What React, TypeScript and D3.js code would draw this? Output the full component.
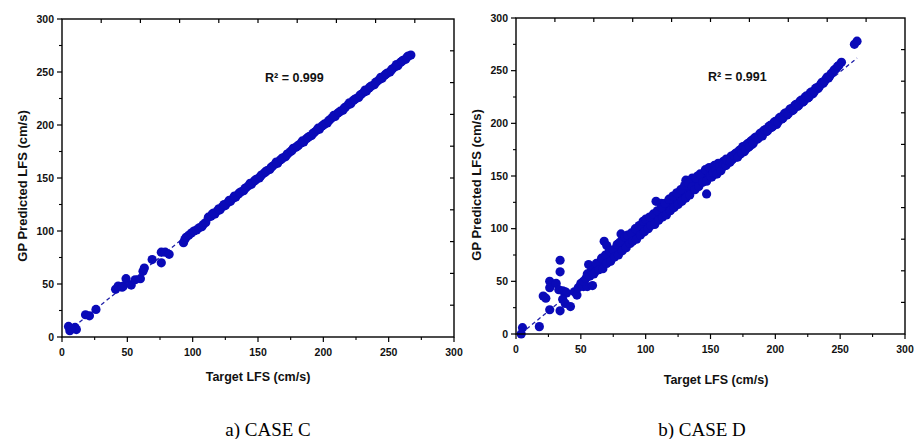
import React from "react";
import * as d3 from "d3";

// ---------- data ----------
const xMajorTicks = [0, 50, 100, 150, 200, 250, 300];
const yMajorTicks = [0, 50, 100, 150, 200, 250, 300];
const minorTicks = [25, 75, 125, 175, 225, 275];
const mirrorTicks = [30, 60, 90, 120, 150, 180, 210, 240, 270];

const xTitle = "Target LFS (cm/s)";
const yTitle = "GP Predicted LFS (cm/s)";

const captionC = "a) CASE C";
const captionD = "b) CASE D";
const r2C = "R² = 0.999";
const r2D = "R² = 0.991";

// CASE C: [target, predicted]
const caseCPoints: [number, number][] = [
  [5, 10], [6, 6], [10, 9], [11, 7], [7, 8],
  [18, 21], [21, 20], [26, 26],
  [41, 45], [43, 48], [46, 47], [47, 48], [49, 55], [53, 49], [56, 54], [60, 55],
  [62, 62], [63, 65], [69, 73], [76, 70], [76, 80], [79, 80], [82, 78],
  [93, 89], [94, 92], [95, 94], [97, 96], [99, 98], [101, 100], [103, 101], [105, 103],
  [107, 104], [108, 106], [110, 108],
  [112, 113], [114, 114], [115, 116], [117, 116], [119, 119], [121, 120], [123, 123],
  [125, 124], [127, 127], [129, 128], [131, 131], [133, 132], [135, 135], [137, 137],
  [139, 138], [141, 141], [143, 143], [145, 144], [147, 147], [149, 149], [151, 150],
  [153, 153], [155, 155], [157, 157], [159, 158], [161, 161], [163, 163], [165, 164],
  [167, 167], [169, 169], [171, 170], [173, 173], [175, 175], [177, 178], [179, 179],
  [181, 181], [183, 183], [185, 184], [187, 187], [189, 189], [191, 190], [193, 193],
  [195, 195], [197, 196], [199, 199], [201, 201], [203, 202], [205, 205], [207, 207],
  [209, 208], [211, 211], [213, 213], [215, 214], [217, 217], [219, 219], [221, 220],
  [223, 223], [225, 225], [227, 226], [229, 229], [231, 231], [233, 232], [235, 235],
  [237, 237], [239, 238], [241, 241], [243, 243], [245, 244], [247, 247], [249, 249],
  [251, 250], [253, 253], [255, 255], [257, 256], [259, 259], [261, 261], [263, 262],
  [265, 265], [267, 266],
  [116, 117], [120, 121], [124, 125], [128, 129], [132, 133], [136, 136], [140, 140],
  [144, 145], [148, 148], [152, 152], [156, 156], [160, 160], [164, 165], [168, 168],
  [172, 172], [176, 176], [180, 180], [184, 185], [188, 188], [192, 192], [196, 197],
  [200, 200], [204, 204], [208, 209], [212, 212], [216, 216], [220, 221], [224, 224],
  [228, 228], [232, 233], [236, 236], [240, 240], [244, 245], [248, 248], [252, 252],
  [256, 257], [260, 260], [264, 264],
];

// CASE D: [target, predicted]
const caseDPoints: [number, number][] = [
  [4, 0], [5, 6], [18, 7], [21, 36], [23, 34], [26, 23], [26, 50], [26, 44], [31, 48],
  [34, 70], [34, 59], [33, 42], [36, 41], [38, 40], [39, 39], [34, 22], [36, 33],
  [38, 29], [42, 26], [45, 40], [47, 37], [48, 44], [50, 48], [52, 45], [55, 45],
  [56, 66], [59, 46],
  [52, 50], [54, 53], [55, 57], [57, 55], [58, 60], [59, 58], [60, 62], [61, 59],
  [62, 64], [63, 61], [64, 66], [65, 63], [66, 68], [67, 65], [68, 71], [68, 88],
  [70, 84], [69, 70], [70, 73], [71, 69], [72, 75], [73, 72], [74, 78], [75, 74],
  [76, 80], [77, 76], [78, 82], [79, 78], [80, 84], [81, 80], [81, 95], [82, 87],
  [83, 82], [84, 89], [85, 85], [86, 91], [87, 87], [88, 93], [89, 89], [90, 95],
  [91, 91], [92, 97], [93, 93], [94, 99], [95, 96], [96, 101], [97, 98], [98, 104],
  [99, 100], [100, 105], [101, 102], [102, 107], [103, 103], [104, 109], [105, 105],
  [106, 111], [107, 107], [108, 126], [108, 113], [109, 109], [110, 116], [111, 111],
  [112, 124], [112, 118], [113, 114], [114, 120], [115, 116], [116, 122], [117, 118],
  [118, 125], [119, 120], [120, 127], [121, 122], [122, 129], [123, 124], [124, 131],
  [125, 127], [126, 133], [127, 129], [128, 135], [129, 131], [130, 138], [131, 133],
  [131, 146], [132, 140], [133, 135], [134, 142], [135, 137], [136, 148], [136, 144],
  [137, 139], [138, 146], [139, 141], [140, 150], [140, 147], [141, 143], [142, 149],
  [143, 145], [144, 151], [145, 146], [146, 153], [147, 133], [147, 148], [148, 155],
  [149, 150], [150, 157], [151, 152], [152, 158], [153, 154], [155, 160], [156, 156],
  [158, 162], [159, 158], [160, 164], [161, 160], [162, 166], [164, 164], [166, 169],
  [167, 166], [169, 171], [170, 168], [172, 174], [173, 171], [175, 178], [176, 173],
  [178, 180], [179, 177], [181, 183], [182, 180], [184, 186], [186, 185], [188, 190],
  [189, 188], [191, 193], [193, 192], [195, 197], [197, 196], [199, 201], [201, 199],
  [203, 205], [205, 204], [207, 209], [209, 208], [211, 213], [213, 212], [215, 217],
  [217, 216], [219, 221], [221, 220], [223, 225], [225, 224], [227, 229], [229, 228],
  [231, 233], [233, 233], [235, 237], [237, 238], [239, 242], [241, 243], [243, 247],
  [245, 250], [247, 252], [251, 258], [261, 275], [263, 278],
  [60, 57], [62, 67], [64, 61], [66, 72], [67, 62], [69, 75], [70, 67], [72, 79],
  [73, 69], [75, 80], [76, 73], [78, 85], [79, 75], [80, 87], [82, 79], [84, 92],
  [85, 82], [86, 94], [88, 86], [89, 96], [90, 88], [92, 100], [93, 90], [95, 103],
  [96, 94], [98, 107], [99, 97], [100, 109], [102, 100], [103, 111], [104, 103],
  [106, 114], [107, 104], [109, 117], [110, 108], [112, 120], [113, 111], [115, 124],
  [116, 113], [118, 128], [119, 117], [121, 131], [122, 120], [124, 134], [125, 123],
  [127, 137], [128, 126], [130, 141], [131, 129], [133, 143], [134, 132], [136, 140],
  [138, 137], [139, 148], [141, 140], [142, 152], [144, 144], [146, 156], [147, 145],
  [149, 158], [151, 149], [153, 160], [154, 152], [156, 162],
  [150, 150], [152, 153], [154, 156], [155, 152], [157, 159], [158, 155], [160, 161],
  [162, 160], [163, 165], [165, 163], [166, 165], [168, 170], [170, 172], [171, 168],
  [173, 175], [174, 172], [176, 178], [177, 175], [179, 181], [180, 178], [182, 184],
  [183, 181], [185, 187], [187, 186], [189, 191], [190, 188], [192, 194], [194, 193],
  [196, 198], [198, 197], [200, 202], [202, 201], [204, 206], [206, 205], [208, 210],
  [210, 209], [212, 214], [214, 213], [216, 218], [218, 217], [220, 222], [222, 221],
  [224, 226], [226, 225], [228, 230], [230, 230], [232, 234], [234, 235], [236, 239],
  [238, 240], [240, 244], [242, 245], [244, 248], [246, 251], [248, 254], [249, 255],
];

const caseCFit: [number, number][] = [[5, 5.5], [267, 267]];
const caseDFit: [number, number][] = [[4, 0.5], [263, 262]];

// ---------- styling ----------
const W = 919;
const H = 439;
const DOT = "#0a0ab8";
const FIT = "#2020a8";
const SANS = "'Liberation Sans', Arial, Helvetica, sans-serif";
const SERIF = "'Liberation Serif', 'Times New Roman', serif";

type PanelProps = {
  points: [number, number][];
  fit: [number, number][];
  left: number;
  right: number;
  top: number;
  bottom: number;
  r2: string;
  r2x: number;
  r2y: number;
  xTitleX: number;
  xTitleY: number;
  yTitleX: number;
  yTitleY: number;
  caption: string;
  captionX: number;
};

function Panel(p: PanelProps) {
  const x = d3.scaleLinear().domain([0, 300]).range([p.left, p.right]);
  const y = d3.scaleLinear().domain([0, 300]).range([p.bottom, p.top]);
  const line = d3
    .line<[number, number]>()
    .x((d) => x(d[0]))
    .y((d) => y(d[1]));
  const major = 5;
  const minor = 3;
  const inner = 4;
  return (
    <g>
      <path d={line(p.fit) || ""} fill="none" stroke={FIT} strokeWidth={1.3} strokeDasharray="4,3" />
      {p.points.map((d, i) => (
        <circle key={i} cx={x(d[0])} cy={y(d[1])} r={4.6} fill={DOT} />
      ))}
      <rect
        x={p.left}
        y={p.top}
        width={p.right - p.left}
        height={p.bottom - p.top}
        fill="none"
        stroke="#000"
        strokeWidth={1.4}
      />
      {xMajorTicks.map((t) => (
        <g key={"xb" + t}>
          <line x1={x(t)} x2={x(t)} y1={p.bottom} y2={p.bottom + major} stroke="#000" strokeWidth={1.2} />
          <text
            x={x(t)}
            y={p.bottom + 19}
            textAnchor="middle"
            fontFamily={SANS}
            fontWeight="bold"
            fontSize={10.5}
            fill="#111"
          >
            {t}
          </text>
        </g>
      ))}
      {minorTicks.map((t) => (
        <line key={"xm" + t} x1={x(t)} x2={x(t)} y1={p.bottom} y2={p.bottom + minor} stroke="#000" strokeWidth={1.1} />
      ))}
      {yMajorTicks.map((t) => (
        <g key={"yl" + t}>
          <line x1={p.left - major} x2={p.left} y1={y(t)} y2={y(t)} stroke="#000" strokeWidth={1.2} />
          <text
            x={p.left - 8}
            y={y(t)}
            dy="0.35em"
            textAnchor="end"
            fontFamily={SANS}
            fontWeight="bold"
            fontSize={10.5}
            fill="#111"
          >
            {t}
          </text>
        </g>
      ))}
      {minorTicks.map((t) => (
        <line key={"ym" + t} x1={p.left - minor} x2={p.left} y1={y(t)} y2={y(t)} stroke="#000" strokeWidth={1.1} />
      ))}
      {mirrorTicks.map((t) => (
        <line key={"xt" + t} x1={x(t)} x2={x(t)} y1={p.top} y2={p.top + inner} stroke="#000" strokeWidth={1.2} />
      ))}
      {mirrorTicks.map((t) => (
        <line key={"yr" + t} x1={p.right - inner} x2={p.right} y1={y(t)} y2={y(t)} stroke="#000" strokeWidth={1.2} />
      ))}
      <text
        x={p.xTitleX}
        y={p.xTitleY}
        textAnchor="middle"
        fontFamily={SANS}
        fontWeight="bold"
        fontSize={12.5}
        fill="#111"
      >
        {xTitle}
      </text>
      <text
        transform={`translate(${p.yTitleX},${p.yTitleY}) rotate(-90)`}
        textAnchor="middle"
        fontFamily={SANS}
        fontWeight="bold"
        fontSize={13}
        fill="#111"
      >
        {yTitle}
      </text>
      <text x={p.r2x} y={p.r2y} fontFamily={SANS} fontWeight="bold" fontSize={12.5} fill="#111">
        {p.r2}
      </text>
      <text x={p.captionX} y={436} textAnchor="middle" fontFamily={SERIF} fontSize={19} fill="#000">
        {p.caption}
      </text>
    </g>
  );
}

export default function App() {
  return (
    <svg
      width={W}
      height={H}
      viewBox={`0 0 ${W} ${H}`}
      style={{ position: "absolute", left: 0, top: 0, background: "#fff" }}
    >
      <rect x={0} y={0} width={W} height={H} fill="#fff" />
      <Panel
        points={caseCPoints}
        fit={caseCFit}
        left={62}
        right={454}
        top={19}
        bottom={337}
        r2={r2C}
        r2x={265}
        r2y={82}
        xTitleX={258}
        xTitleY={381}
        yTitleX={27}
        yTitleY={186}
        caption={captionC}
        captionX={268}
      />
      <Panel
        points={caseDPoints}
        fit={caseDFit}
        left={516}
        right={905}
        top={18}
        bottom={334}
        r2={r2D}
        r2x={708}
        r2y={81}
        xTitleX={716}
        xTitleY={384}
        yTitleX={481}
        yTitleY={185}
        caption={captionD}
        captionX={702}
      />
    </svg>
  );
}
